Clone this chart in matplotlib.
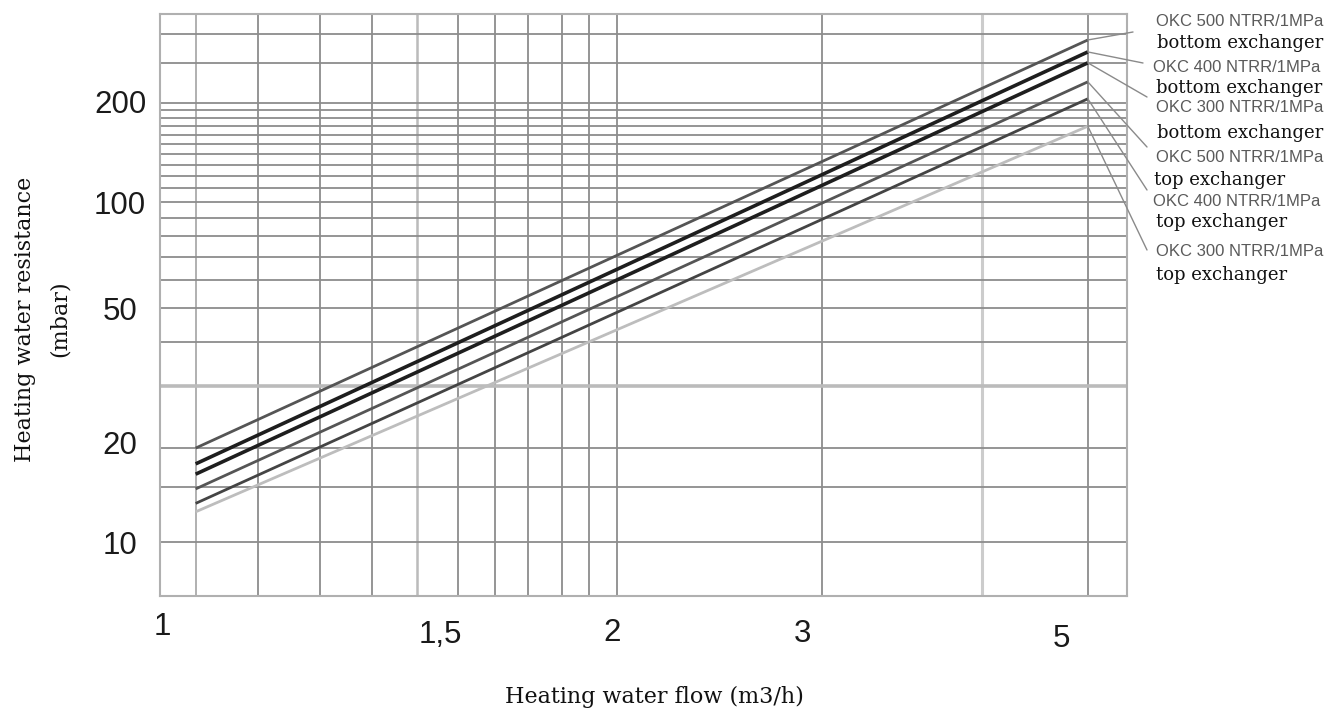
import numpy as np
import matplotlib
matplotlib.use("Agg")
import matplotlib.pyplot as plt
from matplotlib.transforms import ScaledTranslation

# --- data (flow in m3/h, resistance in mbar) ---
flow = [1.053, 5.0]
res_500_bottom = [20.0, 311.0]
res_400_bottom = [17.8, 286.0]
res_300_bottom = [16.5, 265.0]
res_500_top = [14.8, 232.0]
res_400_top = [13.3, 206.0]
res_300_top = [12.5, 170.0]

models = ["OKC 500 NTRR/1MPa", "OKC 400 NTRR/1MPa", "OKC 300 NTRR/1MPa",
          "OKC 500 NTRR/1MPa", "OKC 400 NTRR/1MPa", "OKC 300 NTRR/1MPa"]
exchangers = ["bottom exchanger", "bottom exchanger", "bottom exchanger",
              "top exchanger", "top exchanger", "top exchanger"]

x_ticks = [1, 1.5, 2, 3, 5]
x_tick_labels = ["1", "1,5", "2", "3", "5"]
y_ticks = [10, 20, 50, 100, 200]
y_tick_labels = ["10", "20", "50", "100", "200"]

x_grid = [1.053, 1.153, 1.26, 1.36, 1.45, 1.545, 1.64, 1.73, 1.83, 1.91, 2, 3, 4, 5]
y_grid = [10, 15, 20, 30, 40, 50, 60, 70, 80, 90, 100, 110, 120, 130, 140,
          150, 160, 170, 180, 190, 200, 265, 325]

# --- the printed axes are not a clean log scale, so use a piecewise log scale ---
X_ANCHOR = [1, 1.5, 2, 3, 4, 5]
X_PIX = [160, 440, 617, 822, 982, 1088]
Y_ANCHOR = [10, 20, 50, 100, 200]
Y_PIX = [-542, -448, -308, -202, -103]


def piecewise_log(vals, pix):
    lv = np.log10(np.asarray(vals, float))
    p = np.asarray(pix, float)
    s0 = (p[1] - p[0]) / (lv[1] - lv[0])
    s1 = (p[-1] - p[-2]) / (lv[-1] - lv[-2])

    def fwd(x):
        lx = np.log10(np.clip(np.asarray(x, float), 1e-6, None))
        out = np.interp(lx, lv, p)
        out = np.where(lx < lv[0], p[0] + (lx - lv[0]) * s0, out)
        out = np.where(lx > lv[-1], p[-1] + (lx - lv[-1]) * s1, out)
        return out

    def inv(u):
        u = np.asarray(u, float)
        lx = np.interp(u, p, lv)
        lx = np.where(u < p[0], lv[0] + (u - p[0]) / s0, lx)
        lx = np.where(u > p[-1], lv[-1] + (u - p[-1]) / s1, lx)
        return 10 ** lx

    return fwd, inv


fig = plt.figure(figsize=(13.3, 7.2), dpi=100)
ax = fig.add_axes([160 / 1330, 124 / 720, 967 / 1330, 582 / 720])
ax.set_xscale("function", functions=piecewise_log(X_ANCHOR, X_PIX))
ax.set_yscale("function", functions=piecewise_log(Y_ANCHOR, Y_PIX))
ax.set_xlim(1, 5.43)
ax.set_ylim(6.72, 373)

# grid
special_x = {1.45: ("#bbbbbb", 1.8), 4: ("#cccccc", 2.2), 1.053: ("#aaaaaa", 1.3)}
special_y = {30: ("#bbbbbb", 2.6)}
for gx in x_grid:
    c, w = special_x.get(gx, ("#8c8c8c", 1.3))
    ax.axvline(gx, color=c, lw=w, zorder=1)
for gy in y_grid:
    c, w = special_y.get(gy, ("#8c8c8c", 1.3))
    ax.axhline(gy, color=c, lw=w, zorder=1)

# curves
series = [res_500_bottom, res_400_bottom, res_300_bottom, res_500_top, res_400_top, res_300_top]
colors = ["#555555", "#1e1e1e", "#1e1e1e", "#555555", "#444444", "#bdbdbd"]
widths = [2.0, 2.6, 2.6, 2.0, 2.0, 2.0]
for vals, c, w in zip(series, colors, widths):
    ax.plot(flow, vals, color=c, lw=w, zorder=3, solid_capstyle="butt")

for s in ax.spines.values():
    s.set_color("#b0b0b0")
    s.set_linewidth(1.5)

ax.set_xticks(x_ticks, x_tick_labels)
ax.set_yticks(y_ticks, y_tick_labels)
ax.minorticks_off()
ax.tick_params(which="both", length=0)
ax.tick_params(axis="x", pad=16, labelsize=22.5, labelcolor="#1a1a1a")
ax.tick_params(axis="y", pad=28.8, labelsize=22.5, labelcolor="#1a1a1a")
for lbl in ax.get_xticklabels() + ax.get_yticklabels():
    lbl.set_fontfamily("Liberation Sans")

# the printed labels sit a little off their grid lines
x_shift = [(2, -6), (0, 2), (-5, 0), (-19, 1), (-26, 6)]
for lbl, (dx, dy) in zip(ax.get_xticklabels(), x_shift):
    lbl.set_transform(lbl.get_transform() + ScaledTranslation(dx / 100, -dy / 100, fig.dpi_scale_trans))
y_shift = [0, -6, 0, 0, -2]
for lbl, dy in zip(ax.get_yticklabels(), y_shift):
    lbl.set_ha("center")
    lbl.set_transform(lbl.get_transform() + ScaledTranslation(0, -dy / 100, fig.dpi_scale_trans))

# labels on the right with leader lines
model_y = [22, 68, 108, 157, 202, 252]
model_x = [1156, 1153, 1156, 1156, 1153, 1156]
exch_y = [43, 88, 133, 180, 222, 275]
exch_x = [1157, 1156, 1157, 1154, 1156, 1156]
leader_end = [(1133, 32), (1143, 63), (1147, 97), (1147, 147), (1147, 190), (1147, 250)]
for i in range(6):
    fig.text(model_x[i] / 1330, 1 - model_y[i] / 720, models[i], family="Liberation Sans",
             fontsize=12, color="#5a5a5a", ha="left", va="center")
    fig.text(exch_x[i] / 1330, 1 - exch_y[i] / 720, exchangers[i], family="DejaVu Serif",
             fontsize=13, color="#111111", ha="left", va="center")
    ex, ey = leader_end[i]
    ax.annotate("", xy=(flow[-1], series[i][-1]), xycoords="data",
                xytext=(ex, 720 - ey), textcoords="figure pixels",
                arrowprops=dict(arrowstyle="-", color="#8a8a8a", lw=1.0, shrinkA=0, shrinkB=0),
                annotation_clip=False)

fig.text(654 / 1330, 1 - 697 / 720, "Heating water flow (m3/h)", family="DejaVu Serif",
         fontsize=16, color="#111111", ha="center", va="center")
fig.text(42 / 1330, 1 - 319 / 720, "Heating water resistance\n(mbar)", family="DejaVu Serif",
         fontsize=16, color="#111111", ha="center", va="center", rotation=90,
         multialignment="center", linespacing=1.75)

fig.savefig("out.png", dpi=100)
